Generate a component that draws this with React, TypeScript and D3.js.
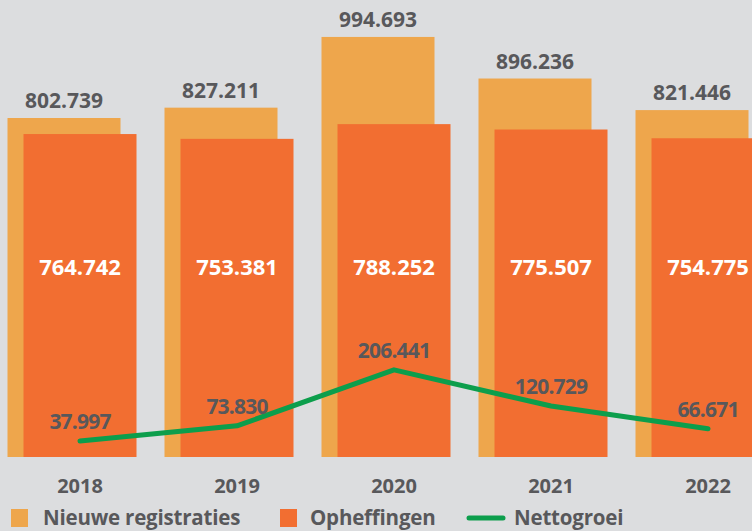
import React from "react";
import * as d3 from "d3";

const years = ["2018", "2019", "2020", "2021", "2022"];
const nieuweRegistraties = [802739, 827211, 994693, 896236, 821446];
const opheffingen = [764742, 753381, 788252, 775507, 754775];
const nettogroei = [37997, 73830, 206441, 120729, 66671];
const legendLabels = ["Nieuwe registraties", "Opheffingen", "Nettogroei"];

const W = 752;
const H = 531;
const C_LIGHT = "#eea64c";
const C_DARK = "#f26e31";
const C_GREEN = "#0c9e4c";
const C_TEXT = "#58585b";
const BG = "#dcdddf";
const FONT = "'Open Sans', 'DejaVu Sans', sans-serif";

const fmt = (v: number) => d3.format(",")(v).replace(/,/g, ".");

export default function App() {
  const baseline = 457;
  const x = d3.scalePoint<string>().domain(years).range([80, 708]);
  const y = d3.scaleLinear().domain([0, 1000000]).range([baseline, baseline - 422.3]);
  const bw = 113;
  const off = 16;

  const line = d3
    .line<number>()
    .x((_, i) => x(years[i]) as number)
    .y((d) => y(d));

  return (
    <svg
      width={W}
      height={H}
      style={{ position: "fixed", left: 0, top: 0, display: "block", background: BG }}
      fontFamily={FONT}
    >
      <rect x={0} y={0} width={W} height={H} fill={BG} />
      {years.map((yr, i) => {
        const cx = x(yr) as number;
        const lx = cx - off - bw / 2;
        const dx = cx - bw / 2;
        return (
          <g key={yr}>
            <rect x={lx} y={y(nieuweRegistraties[i])} width={bw} height={baseline - y(nieuweRegistraties[i])} fill={C_LIGHT} />
            <rect x={dx} y={y(opheffingen[i])} width={bw} height={baseline - y(opheffingen[i])} fill={C_DARK} />
            <text
              x={cx - off}
              y={y(nieuweRegistraties[i]) - 10}
              textAnchor="middle"
              fontSize={21}
              fontWeight={700}
              fill={C_TEXT}
            >
              {fmt(nieuweRegistraties[i])}
            </text>
            <text x={cx} y={275} textAnchor="middle" fontSize={22} fontWeight={700} fill="#ffffff">
              {fmt(opheffingen[i])}
            </text>
            <text x={cx} y={493} textAnchor="middle" fontSize={20} fontWeight={700} fill={C_TEXT}>
              {yr}
            </text>
          </g>
        );
      })}
      <path
        d={line(nettogroei) || ""}
        fill="none"
        stroke={C_GREEN}
        strokeWidth={5}
        strokeLinecap="round"
        strokeLinejoin="round"
      />
      {years.map((yr, i) => (
        <text
          key={"n" + yr}
          x={x(yr) as number}
          y={y(nettogroei[i]) - 12}
          textAnchor="middle"
          fontSize={21}
          fontWeight={700}
          fill={C_TEXT}
          letterSpacing={-0.8}
        >
          {fmt(nettogroei[i])}
        </text>
      ))}
      <g>
        <rect x={11} y={509} width={17} height={18} fill={C_LIGHT} />
        <text x={43} y={525} fontSize={20.5} fontWeight={700} fill={C_TEXT} letterSpacing={-0.2}>
          {legendLabels[0]}
        </text>
        <rect x={280} y={509} width={17} height={18} fill={C_DARK} />
        <text x={310} y={525} fontSize={20.5} fontWeight={700} fill={C_TEXT} letterSpacing={-0.2}>
          {legendLabels[1]}
        </text>
        <line x1={469} y1={518} x2={503} y2={518} stroke={C_GREEN} strokeWidth={5} strokeLinecap="round" />
        <text x={514} y={525} fontSize={20.5} fontWeight={700} fill={C_TEXT} letterSpacing={-0.2}>
          {legendLabels[2]}
        </text>
      </g>
    </svg>
  );
}
